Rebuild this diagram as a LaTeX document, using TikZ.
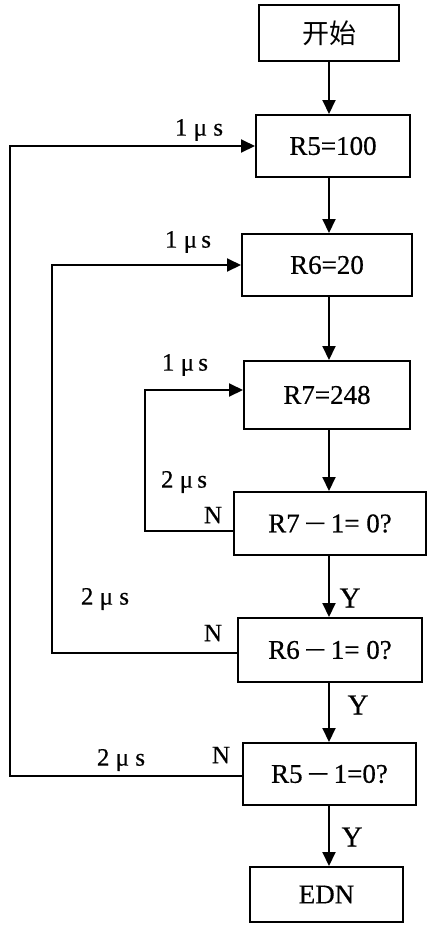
\documentclass[tikz,border=0pt]{standalone}
\usepackage{fontspec}
\setmainfont[FakeBold=0.5]{Liberation Serif}
\newfontfamily\cjk{Noto Sans CJK SC}
\usetikzlibrary{arrows.meta, positioning}
\newcommand{\dash}{\,\scalebox{1.45}[1]{−}\,}
\tikzset{
  proc/.style={rectangle, draw=black, line width=2pt, inner sep=0pt,
    font=\fontsize{27}{31}\selectfont},
  arr/.style={-{Triangle[length=14pt,width=13pt]}, line width=2pt},
  lbl/.style={inner sep=0pt, font=\fontsize{25}{29}\selectfont},
  yn/.style={inner sep=0pt, font=\fontsize{29}{33}\selectfont},
}

\begin{document}
\begin{tikzpicture}[x=1pt, y=-1pt]
  \useasboundingbox (0,0) rectangle (429,932);
  % boxes
  \node[proc, minimum width=140, minimum height=56] (start) at (329,33) {\cjk 开始};
  \node[proc, minimum width=154, minimum height=62] (r5) at (333,146) {R5=100};
  \node[proc, minimum width=170, minimum height=62] (r6) at (327,265) {R6=20};
  \node[proc, minimum width=166, minimum height=68] (r7) at (327,395) {R7=248};
  \node[proc, minimum width=192, minimum height=63] (d7) at (330,523.5) {R7\dash1= 0?};
  \node[proc, minimum width=184, minimum height=64] (d6) at (330,650) {R6\dash1= 0?};
  \node[proc, minimum width=173, minimum height=62] (d5) at (329.5,774) {R5\dash1=0?};
  \node[proc, minimum width=153, minimum height=55] (end) at (326.5,894.5) {EDN};
  % main line
  \coordinate (spine) at (329,0);
  \draw[arr] (spine |- start.south) -- (spine |- r5.north);
  \draw[arr] (spine |- r5.south) -- (spine |- r6.north);
  \draw[arr] (spine |- r6.south) -- (spine |- r7.north);
  \draw[arr] (spine |- r7.south) -- (spine |- d7.north);
  \draw[arr] (spine |- d7.south) -- (spine |- d6.north);
  \draw[arr] (spine |- d6.south) -- (spine |- d5.north);
  \draw[arr] (spine |- d5.south) -- (spine |- end.north);
  % loops back
  \coordinate (outer) at (10,0);
  \coordinate (middle) at (52,0);
  \coordinate (inner) at (145,0);
  \draw[arr] ([yshift=-2pt]d5.west) -- ([yshift=-2pt]d5.west -| outer) |- (r5.west);
  \draw[arr] ([yshift=-3pt]d6.west) -- ([yshift=-3pt]d6.west -| middle) |- (r6.west);
  \draw[arr] ([yshift=-7pt]d7.west) -- ([yshift=-7pt]d7.west -| inner) |- ([yshift=5pt]r7.west);
  % labels
  \node[lbl] (t1a) at (199,130) {1 μ s};
  \node[lbl] (t1b) at (188,242) {1 μ\,s};
  \node[lbl] (t1c) at (185,365) {1 μ\,s};
  \node[lbl] (t2c) at (184,482) {2 μ\,s};
  \node[lbl] (t2b) at (105,599) {2 μ s};
  \node[lbl] (t2a) at (121,760) {2 μ s};
  \node[lbl] (n7) at (213,515) {N};
  \node[lbl] (n6) at (213,633) {N};
  \node[lbl] (n5) at (221,755) {N};
  \node[yn] (y7) at (350,598) {Y};
  \node[yn] (y6) at (358,705) {Y};
  \node[yn] (y5) at (352,837) {Y};
\end{tikzpicture}
\end{document}
